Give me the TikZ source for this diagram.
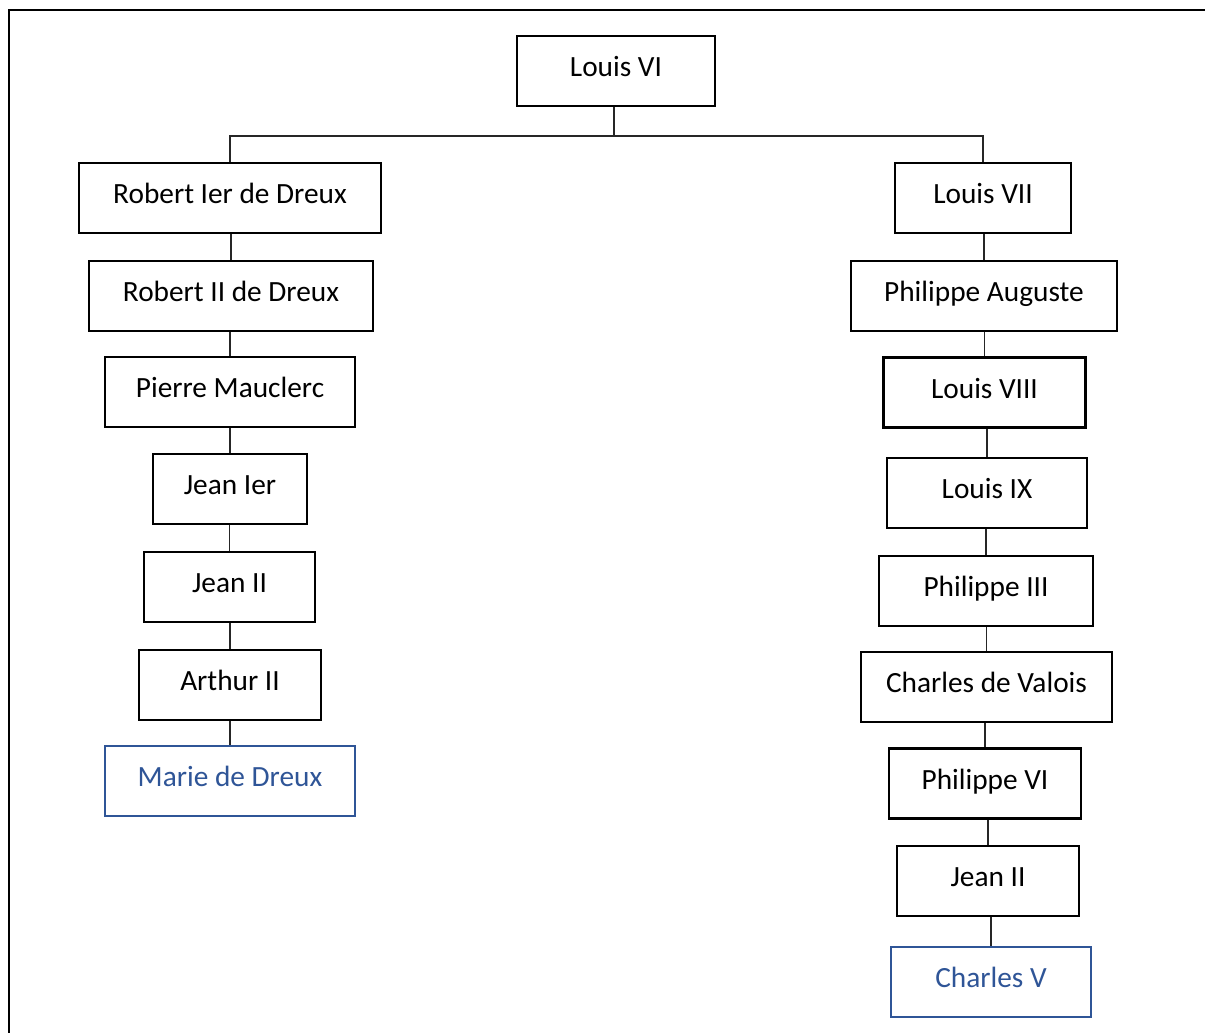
\documentclass[tikz,border=0pt]{standalone}
\usepackage{fontspec}
\setmainfont{Carlito}
\definecolor{boxblue}{RGB}{47,85,151}
\begin{document}
\begin{tikzpicture}[x=0.75pt,y=-0.75pt,
  person/.style={draw=black,line width=2pt,rectangle,inner sep=0pt,
    minimum height=52.5pt,font=\fontsize{22}{26}\selectfont,
    text height=14.25pt,text depth=6pt},
  heir/.style={person,draw=boxblue,text=boxblue,line width=1.8pt},
  link/.style={line width=1pt,draw=black!85}]
\useasboundingbox (0,0) rectangle (1205,1032);
\begin{scope}
\clip (0,0) rectangle (1205,1032);
\draw[line width=1.6pt] (9,1040) -- (9,10) -- (1215,10);
\end{scope}
% root
\node[person,minimum width=148.5pt] (lvi) at (616,71) {Louis VI};
% left branch
\node[person,minimum width=226.5pt] (r1) at (230,198) {Robert Ier de Dreux};
\node[person,minimum width=213pt] (r2) at (231,296) {Robert II de Dreux};
\node[person,minimum width=187.5pt] (pm) at (230,392) {Pierre Mauclerc};
\node[person,minimum width=115.5pt] (j1) at (230,489) {Jean Ier};
\node[person,minimum width=128.25pt] (j2) at (229.5,587) {Jean II};
\node[person,minimum width=136.5pt] (a2) at (230,685) {Arthur II};
\node[heir,minimum width=187.5pt] (md) at (230,781) {Marie de Dreux};
% right branch
\node[person,minimum width=132pt] (lvii) at (983,198) {Louis VII};
\node[person,minimum width=199.5pt] (pa) at (984,296) {Philippe Auguste};
\node[person,minimum width=151.5pt] (lviii) at (984.5,392.5) {Louis VIII};
\node[person,minimum width=150pt] (lix) at (987,493) {Louis IX};
\node[person,minimum width=160.5pt] (p3) at (986,591) {Philippe III};
\node[person,minimum width=188.25pt] (cv) at (986.5,687) {Charles de Valois};
\node[person,minimum width=144pt] (p6) at (985,783.5) {Philippe VI};
\node[person,minimum width=136.5pt] (jii) at (988,881) {Jean II};
\node[heir,minimum width=150pt] (c5) at (991,982) {Charles V};
% connectors
\coordinate (bar) at (614,136);
\draw[link] (lvi.south -| bar) -- (bar);
\draw[link] (r1.north) -- (r1.north |- bar) -- (lvii.north |- bar) -- (lvii.north);
\foreach \a/\b in {r1/r2,r2/pm,pm/j1,j1/j2,j2/a2,a2/md,
  lvii/pa,pa/lviii,lviii/lix,lix/p3,p3/cv,cv/p6,p6/jii,jii/c5}
  \draw[link] (\b.north) -- (\b.north |- \a.south);
\end{tikzpicture}
\end{document}
